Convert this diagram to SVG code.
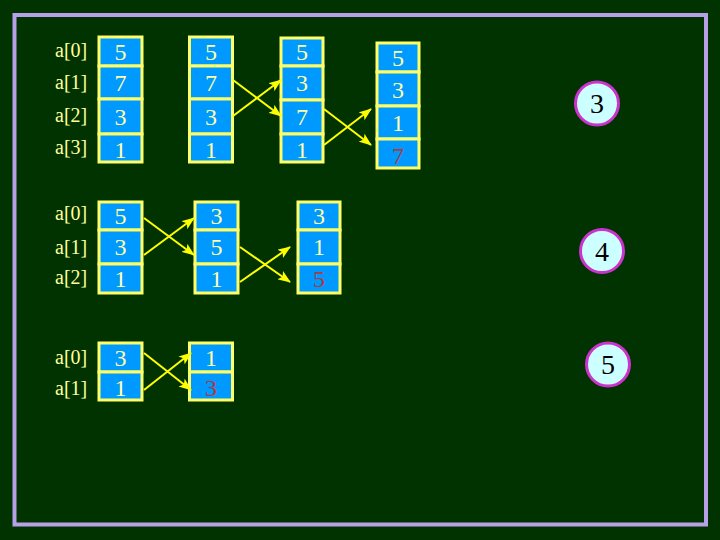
<svg xmlns="http://www.w3.org/2000/svg" width="720" height="540" viewBox="0 0 720 540">
<style>
.cell{fill:#0099ff;stroke:#ffff66;stroke-width:3}
.num{font-family:"Liberation Serif",serif;font-size:24px;fill:#ffffaa;text-anchor:middle}
.red{fill:#b03a3a}
.lbl{font-family:"Liberation Serif",serif;font-size:20px;fill:#ffff99}
.arr{stroke:#ffff00;stroke-width:2;fill:none;marker-end:url(#ah)}
.circ{fill:#ccffff;stroke:#cc33cc;stroke-width:3}
.ctx{font-family:"Liberation Serif",serif;font-size:28px;fill:#000;text-anchor:middle}
</style>
<defs>
<marker id="ah" markerUnits="userSpaceOnUse" markerWidth="14" markerHeight="10" refX="12" refY="5" orient="auto">
<path d="M0,0 L13,5 L0,10 L3,5 Z" fill="#ffff00"/>
</marker>
</defs>
<rect x="0" y="0" width="720" height="540" fill="#013300"/>
<rect x="14.5" y="15" width="691.5" height="509.5" fill="none" stroke="#b8a0e8" stroke-width="4"/>

<g id="labels1">
<text class="lbl" x="55" y="57">a[0]</text>
<text class="lbl" x="55" y="89">a[1]</text>
<text class="lbl" x="55" y="122">a[2]</text>
<text class="lbl" x="55" y="154">a[3]</text>
</g>
<g id="p1c1">
<rect class="cell" x="99" y="37" width="43" height="29"/>
<rect class="cell" x="99" y="66" width="43" height="33"/>
<rect class="cell" x="99" y="99" width="43" height="35"/>
<rect class="cell" x="99" y="134" width="43" height="28"/>
<text class="num" x="120.5" y="60">5</text>
<text class="num" x="120.5" y="91">7</text>
<text class="num" x="120.5" y="125">3</text>
<text class="num" x="120.5" y="158">1</text>
</g>
<g id="p1c2">
<rect class="cell" x="189.5" y="37" width="43" height="29"/>
<rect class="cell" x="189.5" y="66" width="43" height="33"/>
<rect class="cell" x="189.5" y="99" width="43" height="35"/>
<rect class="cell" x="189.5" y="134" width="43" height="28"/>
<text class="num" x="211" y="60">5</text>
<text class="num" x="211" y="91">7</text>
<text class="num" x="211" y="125">3</text>
<text class="num" x="211" y="158">1</text>
</g>
<g id="p1c3">
<rect class="cell" x="281" y="38" width="42" height="28"/>
<rect class="cell" x="281" y="66" width="42" height="34"/>
<rect class="cell" x="281" y="100" width="42" height="34"/>
<rect class="cell" x="281" y="134" width="42" height="28"/>
<text class="num" x="302" y="60">5</text>
<text class="num" x="302" y="91">3</text>
<text class="num" x="302" y="125">7</text>
<text class="num" x="302" y="158">1</text>
</g>
<g id="p1c4">
<rect class="cell" x="377" y="43" width="42" height="29"/>
<rect class="cell" x="377" y="72" width="42" height="34"/>
<rect class="cell" x="377" y="106" width="42" height="33"/>
<rect class="cell" x="377" y="139" width="42" height="29"/>
<text class="num" x="398" y="66">5</text>
<text class="num" x="398" y="98">3</text>
<text class="num" x="398" y="131">1</text>
<text class="num red" x="398" y="164">7</text>
</g>

<g id="labels2">
<text class="lbl" x="55" y="220">a[0]</text>
<text class="lbl" x="55" y="254">a[1]</text>
<text class="lbl" x="55" y="284">a[2]</text>
</g>
<g id="p2c1">
<rect class="cell" x="99" y="202" width="43" height="28"/>
<rect class="cell" x="99" y="230" width="43" height="34"/>
<rect class="cell" x="99" y="264" width="43" height="29"/>
<text class="num" x="120.5" y="224">5</text>
<text class="num" x="120.5" y="255">3</text>
<text class="num" x="120.5" y="287">1</text>
</g>
<g id="p2c2">
<rect class="cell" x="195" y="202" width="43" height="28"/>
<rect class="cell" x="195" y="230" width="43" height="34"/>
<rect class="cell" x="195" y="264" width="43" height="29"/>
<text class="num" x="216.5" y="224">3</text>
<text class="num" x="216.5" y="255">5</text>
<text class="num" x="216.5" y="287">1</text>
</g>
<g id="p2c3">
<rect class="cell" x="298" y="202" width="42" height="28"/>
<rect class="cell" x="298" y="230" width="42" height="34"/>
<rect class="cell" x="298" y="264" width="42" height="29"/>
<text class="num" x="319" y="224">3</text>
<text class="num" x="319" y="255">1</text>
<text class="num red" x="319" y="287">5</text>
</g>

<g id="labels3">
<text class="lbl" x="55" y="364">a[0]</text>
<text class="lbl" x="55" y="395">a[1]</text>
</g>
<g id="p3c1">
<rect class="cell" x="99" y="343" width="43" height="29"/>
<rect class="cell" x="99" y="372" width="43" height="28"/>
<text class="num" x="120.5" y="366">3</text>
<text class="num" x="120.5" y="396">1</text>
</g>
<g id="p3c2">
<rect class="cell" x="189.5" y="343" width="43" height="29"/>
<rect class="cell" x="189.5" y="372" width="43" height="28"/>
<text class="num" x="211" y="366">1</text>
<text class="num red" x="211" y="396">3</text>
</g>

<g id="pass3">
<circle class="circ" cx="597" cy="103.5" r="21.5"/>
<text class="ctx" x="597" y="113">3</text>
</g>
<g id="pass4">
<circle class="circ" cx="602" cy="251" r="21.5"/>
<text class="ctx" x="602" y="260.5">4</text>
</g>
<g id="pass5">
<circle class="circ" cx="608" cy="364.5" r="21.5"/>
<text class="ctx" x="608" y="374">5</text>
</g>

<g id="connectors">
<line class="arr" x1="233" y1="80" x2="281" y2="116"/>
<line class="arr" x1="233" y1="116" x2="281" y2="80"/>
<line class="arr" x1="324" y1="109" x2="371" y2="145"/>
<line class="arr" x1="324" y1="145" x2="371" y2="109"/>
<line class="arr" x1="144" y1="218" x2="194" y2="255"/>
<line class="arr" x1="144" y1="255" x2="194" y2="218"/>
<line class="arr" x1="240" y1="247" x2="290" y2="282"/>
<line class="arr" x1="240" y1="282" x2="290" y2="247"/>
<line class="arr" x1="144" y1="353" x2="191" y2="390"/>
<line class="arr" x1="144" y1="390" x2="191" y2="353"/>
</g>
</svg>
